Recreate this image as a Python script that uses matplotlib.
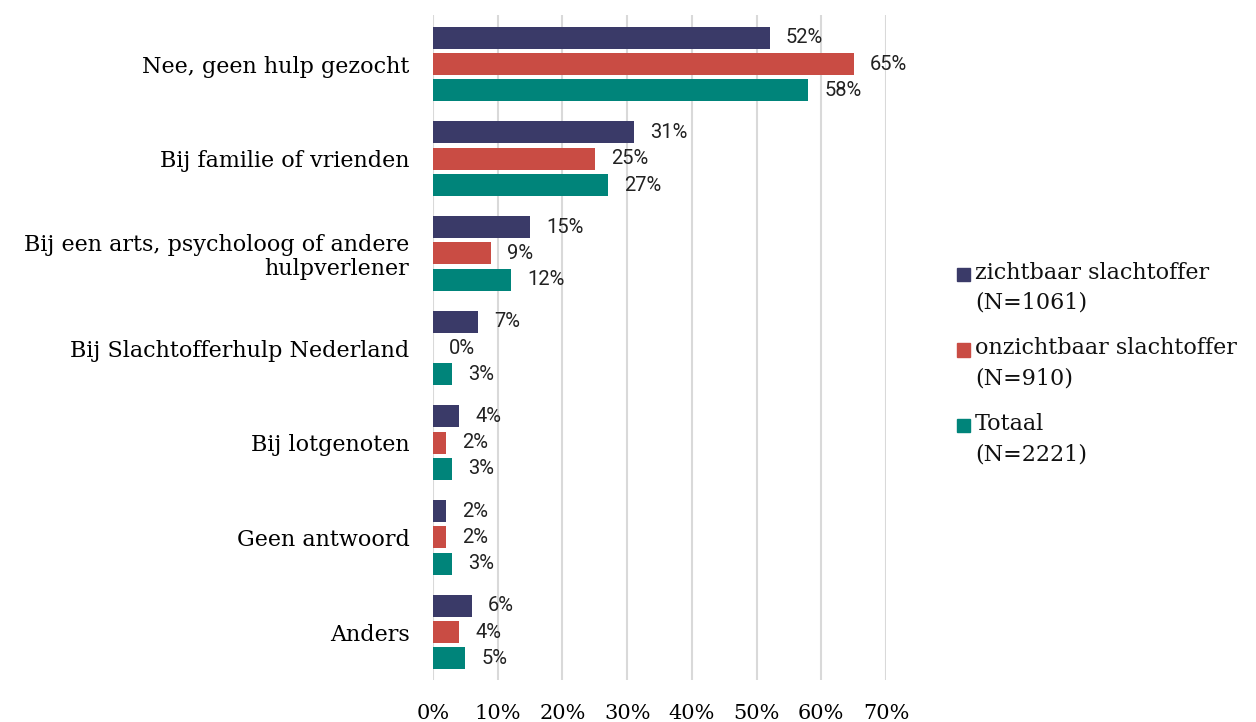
import numpy as np
import matplotlib.pyplot as plt
from matplotlib.patches import Rectangle
from matplotlib.ticker import PercentFormatter

categories = ["Nee, geen hulp gezocht", "Bij familie of vrienden",
              "Bij een arts, psycholoog of andere\nhulpverlener",
              "Bij Slachtofferhulp Nederland", "Bij lotgenoten",
              "Geen antwoord", "Anders"]
zichtbaar = [52, 31, 15, 7, 4, 2, 6]
onzichtbaar = [65, 25, 9, 0, 2, 2, 4]
totaal = [58, 27, 12, 3, 3, 3, 5]

series = [
    ("zichtbaar slachtoffer", "(N=1061)", zichtbaar, "#3a3a68"),
    ("onzichtbaar slachtoffer", "(N=910)", onzichtbaar, "#c94c44"),
    ("Totaal", "(N=2221)", totaal, "#00847a"),
]

serif = "DejaVu Serif"
W, H = 1256, 722

fig = plt.figure(figsize=(12.56, 7.22), dpi=100)
ax = fig.add_axes([433 / W, 1 - 680 / H, 453 / W, 665 / H])

y = np.arange(len(categories))
h = 0.232
step = 0.278
for i, (name, n, vals, col) in enumerate(series):
    pos = y + (i - 1) * step
    ax.barh(pos, vals, height=h, color=col, zorder=3)
    for p, v in zip(pos, vals):
        ax.text(v + 2.5, p, f"{v}%", va="center", ha="left",
                fontsize=14.5, family="Roboto", color="#222222")

ax.set_ylim(6.507, -0.518)
ax.set_xlim(0, 70)
ax.set_xticks(np.arange(0, 71, 10))
ax.xaxis.set_major_formatter(PercentFormatter(decimals=0))
ax.set_yticks(y)
ax.set_yticklabels(categories, fontsize=16, family=serif)
for lab in ax.get_yticklabels():
    lab.set_horizontalalignment("right")
    lab.set_multialignment("right")
    lab.set_linespacing(1.1)
ax.tick_params(axis="y", length=0, pad=17)
ax.tick_params(axis="x", length=0, pad=17, labelsize=15)
for lab in ax.get_xticklabels():
    lab.set_family(serif)
ax.grid(axis="x", color="#d9d9d9", linewidth=1.5, zorder=0)
for s in ax.spines.values():
    s.set_visible(False)

# legend drawn by hand so the square sits next to the first line
for i, (name, n, vals, col) in enumerate(series):
    y1 = 273 + i * 75.5
    fig.patches.append(Rectangle((957 / W, 1 - (y1 + 8) / H), 13 / W, 13 / H,
                                 transform=fig.transFigure, color=col))
    fig.text(975 / W, 1 - y1 / H, name, va="center", ha="left",
             fontsize=16, family=serif, color="#111111")
    fig.text(975 / W, 1 - (y1 + 30) / H, n, va="center", ha="left",
             fontsize=16, family=serif, color="#111111")

fig.savefig("out.png", dpi=100)
